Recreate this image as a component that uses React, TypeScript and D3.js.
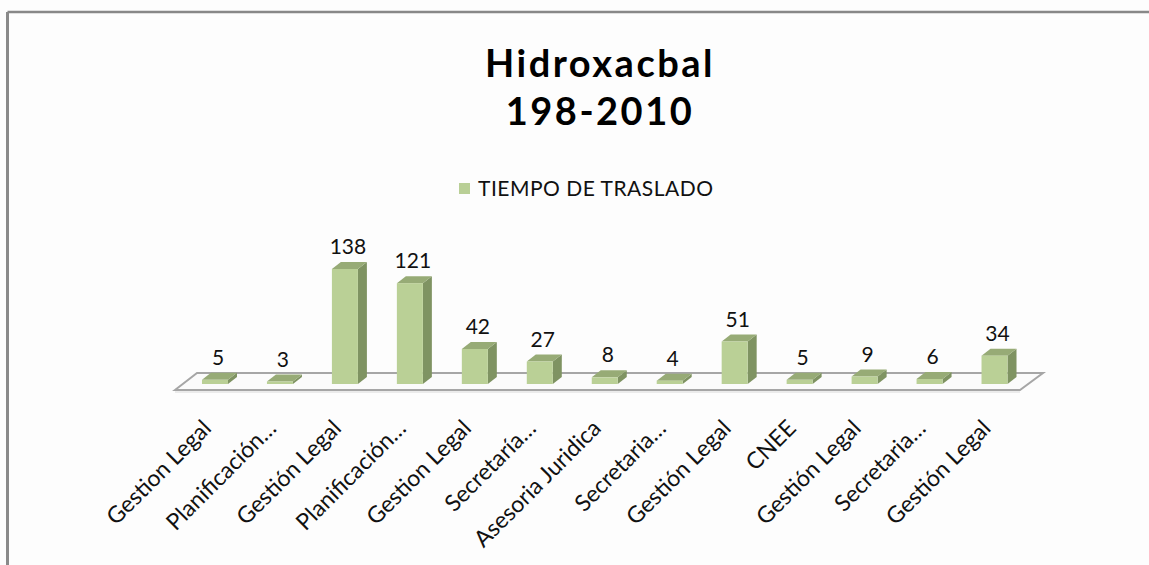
import React from 'react';
import { scaleBand, scaleLinear } from 'd3';

const width = 1149;
const height = 565;

const categories = [
  'Gestion Legal', 'Planificación…', 'Gestión Legal', 'Planificación…', 'Gestion Legal',
  'Secretaría…', 'Asesoria Juridica', 'Secretaria…', 'Gestión Legal', 'CNEE',
  'Gestión Legal', 'Secretaria…', 'Gestión Legal',
];
const values = [5, 3, 138, 121, 42, 27, 8, 4, 51, 5, 9, 6, 34];
const seriesName = 'TIEMPO DE TRASLADO';
const titleLines = ['Hidroxacbal', '198-2010'];

const font = 'Lato, "Open Sans", sans-serif';

// 3d look
const depthX = 9;
const depthY = 7;
const barW = 26;
const baseY = 384;

const App = () => {
  const xScale = scaleBand<number>()
    .domain(values.map((_, i) => i))
    .range([182.5, 1027]);

  const yScale = scaleLinear()
    .domain([0, 138])
    .range([baseY, 269]);

  const [x0, x1] = xScale.range();

  return (
    <svg width={width} height={height} style={{ display: 'block', position: 'absolute', left: 0, top: 0 }}>
      <rect x={0} y={0} width={width} height={height} fill="#fdfdfd" />
      {/* frame */}
      <line x1={7.5} y1={12} x2={width} y2={12} stroke="#888" strokeWidth={2.5} />
      <line x1={7.5} y1={12} x2={7.5} y2={height} stroke="#8a8a8a" strokeWidth={3} />

      {titleLines.map((t, i) => (
        <text key={t} x={600} y={77 + i * 48} textAnchor="middle" fontFamily={font}
          fontWeight="bold" fontSize={38} letterSpacing={2.5} fill="#000">{t}</text>
      ))}

      {/* legend */}
      <rect x={459} y={183} width={11} height={11} fill="#b9cf96" />
      <text x={478} y={196} fontFamily={font} fontSize={21} letterSpacing={0.5} fill="#111">{seriesName}</text>

      {/* floor */}
      <path
        d={`M${x0 - 7.5},390 L${x0 + 14.5},373 L${x1 + 16},373 L${x1 - 7},390 Z`}
        fill="#fbfbfb" stroke="#a6a6a6" strokeWidth={2} />
      <line x1={x0 - 7.5} y1={392} x2={x1 - 7} y2={392} stroke="#d9d9d9" strokeWidth={1} />

      {values.map((v, i) => {
        const cx = (xScale(i) as number) + xScale.bandwidth() / 2;
        const left = cx - barW / 2;
        const right = cx + barW / 2;
        const top = yScale(v);
        return (
          <g key={i}>
            <path d={`M${right},${baseY} L${right},${top} L${right + depthX},${top - depthY} L${right + depthX},${baseY - depthY} Z`}
              fill="#7f9362" />
            <path d={`M${left},${top} L${left + depthX},${top - depthY} L${right + depthX},${top - depthY} L${right},${top} Z`}
              fill="#97ab76" />
            <rect x={left} y={top} width={barW} height={baseY - top} fill="#bad096" />
            <text x={cx + 3} y={top - depthY - 8} textAnchor="middle" fontFamily={font}
              fontSize={21} fill="#111">{v}</text>
          </g>
        );
      })}

      {categories.map((c, i) => {
        const cx = (xScale(i) as number) + xScale.bandwidth() / 2;
        return (
          <text key={i} transform={`translate(${cx - 8},${424}) rotate(-45)`} textAnchor="end"
            dy="0.35em" fontFamily={font} fontSize={23} fill="#111">{c}</text>
        );
      })}
    </svg>
  );
};

export default App;
